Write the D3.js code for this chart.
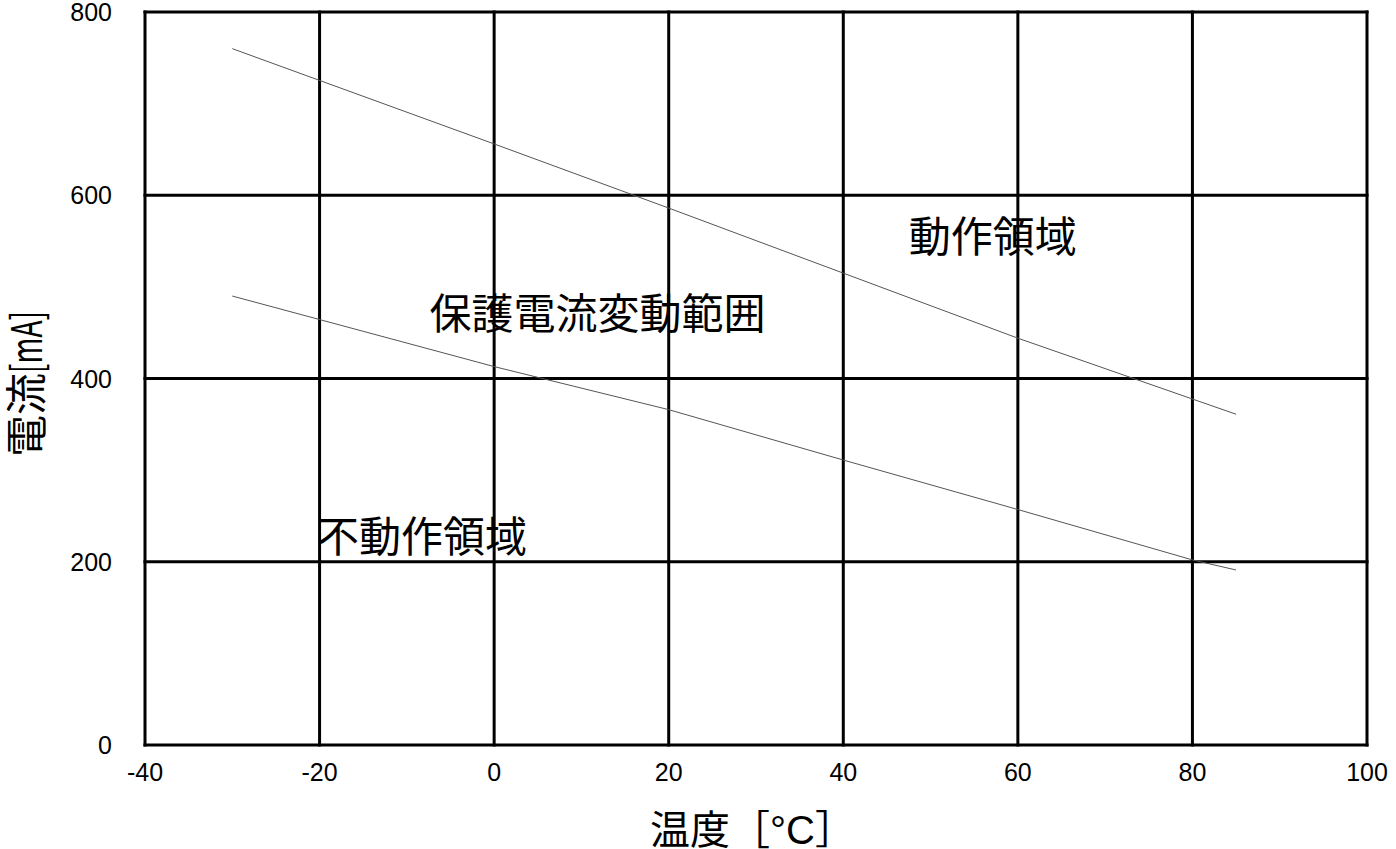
<!DOCTYPE html>
<html>
<head>
<meta charset="utf-8">
<script src="https://cdn.jsdelivr.net/npm/d3@7"></script>
<style>
  html, body { margin: 0; padding: 0; background: #fff; }
  svg { display: block; }
  .tick-label { font-family: "Liberation Sans", Arial, sans-serif; font-size: 25px; fill: #000; }
  .jp { font-family: "Noto Sans CJK JP", sans-serif; fill: #000; }
</style>
</head>
<body>
<div id="chart"></div>
<script>
// values
const xTicks = [-40, -20, 0, 20, 40, 60, 80, 100];
const yTicks = [0, 200, 400, 600, 800];

// upper boundary (動作 threshold) and lower boundary (不動作 threshold)
const upperTemp = [-30, 0, 20, 40, 60, 85];
const upperCurrent = [760, 656, 586, 515, 444, 361];
const lowerTemp = [-30, 0, 20, 40, 60, 80, 85];
const lowerCurrent = [490, 413, 366, 311, 257, 202, 191];

const regionLabels = ["動作領域", "保護電流変動範囲", "不動作領域"];
const regionTemp = [47.5, -7.4, -20.3];
const regionCurrent = [555, 470, 227];

const width = 1396, height = 849;
const margin = { left: 145, right: 29, top: 12, bottom: 104 };

const svg = d3.select("#chart")
    .append("svg")
    .attr("width", width)
    .attr("height", height);

const x = d3.scaleLinear()
    .domain([-40, 100])
    .range([margin.left, width - margin.right]);

const y = d3.scaleLinear()
    .domain([0, 800])
    .range([height - margin.bottom, margin.top]);

// region labels go under the grid (grid lines cross the text in the original)
svg.append("g")
    .selectAll("text")
    .data(regionLabels)
    .join("text")
    .attr("class", "jp")
    .attr("x", (d, i) => x(regionTemp[i]))
    .attr("y", (d, i) => y(regionCurrent[i]))
    .attr("dy", "0.36em")
    .attr("font-size", 42)
    .text(d => d);

// grid
const grid = svg.append("g")
    .attr("stroke", "#000")
    .attr("stroke-width", 3);

grid.selectAll("line.v")
    .data(xTicks)
    .join("line")
    .attr("class", "v")
    .attr("x1", d => x(d))
    .attr("x2", d => x(d))
    .attr("y1", y(0) + 1.5)
    .attr("y2", y(800) - 1.5);

grid.selectAll("line.h")
    .data(yTicks)
    .join("line")
    .attr("class", "h")
    .attr("x1", x(-40) - 1.5)
    .attr("x2", x(100) + 1.5)
    .attr("y1", d => y(d))
    .attr("y2", d => y(d));

// boundary lines
const line = d3.line()
    .x(d => x(d[0]))
    .y(d => y(d[1]));

svg.append("path")
    .datum(d3.zip(upperTemp, upperCurrent))
    .attr("fill", "none")
    .attr("stroke", "#555")
    .attr("stroke-width", 1)
    .attr("d", line);

svg.append("path")
    .datum(d3.zip(lowerTemp, lowerCurrent))
    .attr("fill", "none")
    .attr("stroke", "#555")
    .attr("stroke-width", 1)
    .attr("d", line);

// tick labels
svg.append("g")
    .selectAll("text")
    .data(yTicks)
    .join("text")
    .attr("class", "tick-label")
    .attr("x", x(-40) - 33)
    .attr("y", d => y(d))
    .attr("dy", "0.36em")
    .attr("text-anchor", "end")
    .text(d => d);

svg.append("g")
    .selectAll("text")
    .data(xTicks)
    .join("text")
    .attr("class", "tick-label")
    .attr("x", d => x(d))
    .attr("y", y(0) + 27)
    .attr("dy", "0.36em")
    .attr("text-anchor", "middle")
    .text(d => d);

// y axis title: 電流 plus a narrow [mA]
const yTitle = svg.append("g")
    .attr("transform", "translate(42,457) rotate(-90)");

yTitle.append("text")
    .attr("class", "jp")
    .attr("font-size", 42)
    .attr("x", 0)
    .attr("y", 0)
    .text("電流");

yTitle.append("text")
    .attr("class", "jp")
    .attr("font-size", 42)
    .attr("x", 84)
    .attr("y", 0)
    .attr("textLength", 62)
    .attr("lengthAdjust", "spacingAndGlyphs")
    .text("[mA]");

// x axis title, °C set in the Latin face like the original
const xTitle = svg.append("text")
    .attr("class", "jp")
    .attr("font-size", 40)
    .attr("x", 650)
    .attr("y", 844);

xTitle.append("tspan").text("温度［");
xTitle.append("tspan")
    .attr("font-family", "'Liberation Sans', Arial, sans-serif")
    .text("°C");
xTitle.append("tspan").text("］");
</script>
</body>
</html>
